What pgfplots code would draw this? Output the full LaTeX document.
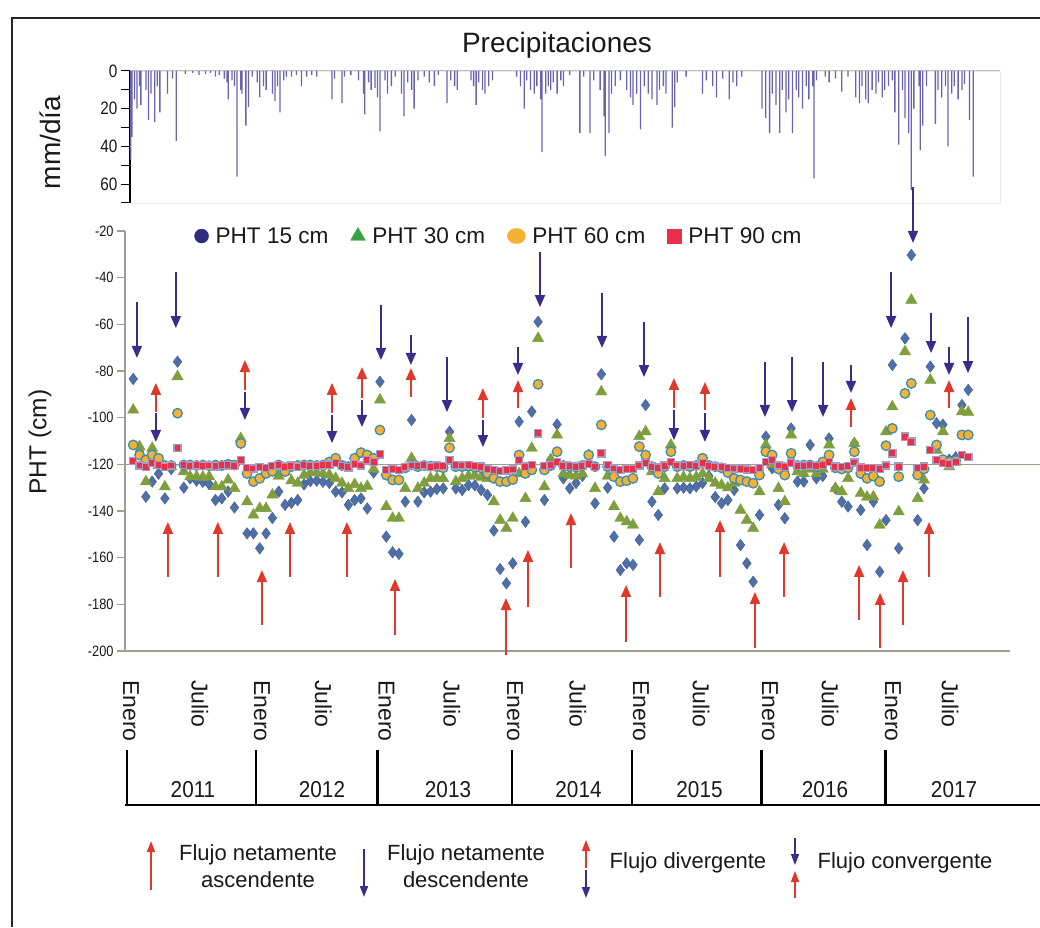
\documentclass[border=0pt]{standalone}
\usepackage{fontspec}
\setmainfont{Liberation Sans}
\newfontfamily\narrowfont{Liberation Sans}[FakeStretch=0.85]
\newfontfamily\condfont{Liberation Sans}[FakeStretch=0.9]
\usepackage{pgfplots}
\pgfplotsset{compat=1.18}
\usepackage{pgfplotstable}
\usetikzlibrary{arrows.meta}

\definecolor{pbar}{HTML}{6A64B0}
\definecolor{axgray}{HTML}{A39C94}
\definecolor{c15}{HTML}{4F6FA8}
\definecolor{c30}{HTML}{7F9E3E}
\definecolor{c60}{HTML}{F2B233}
\definecolor{c60e}{HTML}{3E8DB0}
\definecolor{c90}{HTML}{E8304A}
\definecolor{c90e}{HTML}{A49CC0}
\definecolor{l15}{HTML}{2E2D7F}
\definecolor{l30}{HTML}{3AA040}
\definecolor{arrred}{HTML}{E0392B}
\definecolor{arrpur}{HTML}{3D2B8C}

% potencial hidrico total (cm) a 15, 30, 60 y 90 cm
\pgfplotstableread{
x p15 p30 p60 p90
2011.05 -83.4 -96.7 -111.7 -118.5
2011.10 -114.6 -112.4 -116.0 -120.5
2011.15 -133.9 -127.4 -118.1 -121.0
2011.20 -127.4 -113.1 -116.0 -119.5
2011.25 -124.0 -120.5 -117.4 -120.2
2011.30 -134.6 -129.6 -120.5 -121.2
2011.35 -122.0 -121.0 -120.5 -120.5
2011.40 -76.0 -82.4 -98.1 -112.9
2011.45 -130.0 -123.1 -120.3 -120.3
2011.50 -126.0 -125.3 -120.3 -120.6
2011.55 -127.0 -125.3 -120.5 -120.4
2011.60 -127.5 -125.5 -120.3 -120.8
2011.65 -128.5 -125.3 -120.6 -120.5
2011.70 -135.3 -129.6 -120.3 -120.9
2011.75 -134.6 -129.6 -120.5 -120.2
2011.80 -131.7 -126.7 -120.0 -120.4
2011.85 -138.5 -130.3 -120.3 -120.8
2011.90 -111.0 -108.9 -111.0 -118.1
2011.95 -149.6 -136.0 -123.9 -121.5
2012.00 -149.6 -141.7 -127.4 -121.8
2012.05 -156.0 -138.9 -126.0 -121.2
2012.10 -149.6 -138.9 -123.9 -121.6
2012.15 -143.0 -133.1 -123.0 -120.8
2012.20 -131.7 -125.0 -120.3 -120.4
2012.25 -137.4 -123.1 -123.1 -121.0
2012.30 -136.5 -127.0 -121.0 -120.6
2012.35 -135.3 -128.1 -120.5 -121.2
2012.40 -128.6 -124.6 -120.3 -120.4
2012.45 -127.2 -123.6 -120.3 -120.8
2012.50 -127.0 -123.6 -120.5 -120.6
2012.55 -127.5 -124.0 -120.3 -120.4
2012.60 -128.0 -124.5 -119.0 -120.1
2012.65 -131.7 -126.0 -117.4 -119.5
2012.70 -132.0 -128.1 -120.5 -120.8
2012.75 -137.4 -130.3 -121.0 -121.3
2012.80 -135.3 -128.6 -117.4 -119.8
2012.85 -134.6 -130.3 -115.0 -120.5
2012.90 -138.9 -129.4 -116.0 -118.1
2012.95 -123.5 -122.0 -117.4 -118.9
2013.00 -84.6 -92.4 -105.3 -115.7
2013.05 -151.0 -138.1 -124.6 -122.4
2013.10 -157.7 -143.1 -126.7 -122.0
2013.15 -158.4 -143.1 -126.7 -122.4
2013.20 -136.0 -130.3 -121.5 -121.2
2013.25 -101.0 -117.4 -120.3 -120.5
2013.30 -136.0 -130.3 -121.0 -120.8
2013.35 -132.0 -128.0 -120.5 -120.4
2013.40 -131.7 -126.0 -120.8 -121.0
2013.45 -130.6 -126.0 -121.0 -120.6
2013.50 -130.3 -126.0 -121.5 -120.8
2013.55 -106.0 -108.9 -112.9 -118.1
2013.60 -130.3 -127.4 -121.0 -120.4
2013.65 -131.0 -126.0 -121.0 -120.5
2013.70 -128.9 -125.0 -120.8 -120.3
2013.75 -129.0 -124.6 -121.2 -120.8
2013.80 -131.0 -125.5 -121.5 -121.0
2013.85 -133.1 -126.0 -123.9 -122.0
2013.90 -148.4 -136.0 -126.0 -122.4
2013.95 -164.9 -143.9 -127.4 -122.8
2014.00 -171.0 -147.4 -127.4 -122.6
2014.05 -162.4 -143.1 -126.5 -122.2
2014.10 -101.7 -124.0 -116.0 -118.1
2014.15 -144.6 -134.6 -123.9 -121.0
2014.20 -97.4 -113.1 -122.4 -120.3
2014.25 -58.9 -66.0 -85.7 -106.7
2014.30 -135.3 -129.6 -122.4 -120.8
2014.35 -118.0 -118.0 -120.5 -120.3
2014.40 -102.9 -107.4 -114.6 -119.0
2014.45 -126.0 -124.0 -120.5 -120.6
2014.50 -130.3 -124.6 -121.0 -120.8
2014.55 -128.0 -125.0 -121.2 -121.0
2014.60 -125.0 -124.0 -120.5 -120.6
2014.65 -116.0 -120.0 -116.0 -119.8
2014.70 -136.7 -130.3 -121.0 -121.2
2014.75 -81.4 -88.9 -103.1 -115.3
2014.80 -130.0 -125.0 -121.0 -120.4
2014.85 -151.0 -138.1 -125.3 -121.8
2014.90 -165.3 -143.1 -127.4 -122.4
2014.95 -162.4 -144.6 -127.0 -122.0
2015.00 -163.1 -146.0 -126.0 -122.0
2015.05 -152.4 -108.0 -112.4 -120.5
2015.10 -94.6 -106.0 -116.0 -119.5
2015.15 -136.0 -123.1 -121.0 -121.0
2015.20 -141.7 -131.7 -123.9 -121.4
2015.25 -130.3 -126.0 -121.0 -120.6
2015.30 -112.4 -111.7 -114.6 -118.9
2015.35 -130.3 -126.0 -121.0 -120.5
2015.40 -130.0 -125.5 -120.5 -120.8
2015.45 -130.3 -126.0 -121.0 -120.4
2015.50 -129.5 -125.5 -120.5 -120.6
2015.55 -128.0 -124.0 -117.4 -119.6
2015.60 -125.0 -126.0 -120.5 -120.8
2015.65 -134.0 -128.0 -121.0 -121.0
2015.70 -136.7 -128.9 -121.5 -121.2
2015.75 -135.3 -130.0 -123.5 -121.5
2015.80 -131.0 -128.0 -126.0 -121.8
2015.85 -154.6 -139.6 -126.7 -122.0
2015.90 -162.4 -143.9 -127.4 -122.2
2015.95 -170.3 -147.4 -128.1 -122.4
2016.00 -141.7 -131.7 -124.6 -121.5
2016.05 -108.1 -111.7 -114.6 -119.1
2016.10 -121.7 -120.0 -116.0 -118.1
2016.15 -137.4 -130.3 -122.0 -120.5
2016.20 -143.1 -136.0 -124.6 -121.0
2016.25 -104.6 -107.4 -115.3 -119.3
2016.30 -127.4 -123.1 -120.5 -120.6
2016.35 -127.4 -124.0 -120.3 -120.6
2016.40 -111.7 -122.0 -120.3 -120.4
2016.45 -126.0 -124.0 -121.0 -120.8
2016.50 -125.0 -122.0 -119.0 -120.2
2016.55 -108.9 -111.7 -116.0 -119.0
2016.60 -130.3 -130.3 -121.5 -121.0
2016.65 -136.0 -131.7 -122.0 -121.2
2016.70 -138.1 -126.0 -121.5 -120.8
2016.75 -111.0 -111.0 -114.6 -119.2
2016.80 -139.6 -132.4 -123.9 -121.4
2016.85 -154.6 -134.0 -126.0 -121.6
2016.90 -136.0 -133.9 -125.0 -121.5
2016.95 -166.0 -146.0 -127.4 -122.0
2017.00 -143.9 -106.0 -112.0 -120.5
2017.05 -77.4 -95.3 -104.6 -115.3
2017.10 -156.0 -140.3 -125.3 -121.0
2017.15 -66.0 -71.7 -89.6 -108.1
2017.20 -30.3 -49.6 -85.3 -110.3
2017.25 -143.9 -134.6 -124.6 -121.5
2017.30 -130.3 -126.7 -122.0 -121.0
2017.35 -78.1 -83.9 -98.9 -113.9
2017.40 -102.4 -113.9 -111.7 -118.1
2017.45 -103.0 -106.0 -118.0 -119.5
2017.50 -118.0 -121.0 -119.0 -120.0
2017.55 -117.0 -119.0 -118.5 -119.0
2017.60 -94.6 -97.4 -107.4 -116.0
2017.65 -88.1 -97.7 -107.4 -116.9
}\pht

% precipitacion diaria (mm)
\pgfplotstableread{
x mm
2011.03 47
2011.04 35
2011.06 15
2011.08 20
2011.10 8
2011.11 18
2011.15 10
2011.17 26
2011.19 12
2011.22 27
2011.24 8
2011.26 22
2011.32 12
2011.36 4
2011.39 37
2011.46 1.5
2011.52 1
2011.57 2
2011.62 1.5
2011.66 1
2011.70 3
2011.73 2
2011.77 4
2011.79 6
2011.80 15
2011.83 5
2011.85 8
2011.87 56
2011.90 10
2011.91 12
2011.94 29
2011.96 19
2011.99 3
2012.03 6
2012.05 14
2012.08 8
2012.10 10
2012.15 12
2012.17 16
2012.19 8
2012.21 22
2012.24 5
2012.26 3
2012.30 3
2012.34 2
2012.38 8
2012.42 3
2012.46 2
2012.50 3
2012.62 15
2012.64 4
2012.70 17
2012.72 3
2012.77 2
2012.83 5
2012.87 12
2012.88 23
2012.91 6
2012.93 10
2012.96 9
2012.98 14
2013.00 32
2013.04 5
2013.06 12
2013.09 8
2013.12 3
2013.17 12
2013.19 24
2013.22 6
2013.25 10
2013.27 20
2013.30 5
2013.35 3
2013.39 6
2013.43 8
2013.46 2
2013.53 17
2013.56 5
2013.59 8
2013.61 10
2013.72 5
2013.74 8
2013.76 18
2013.78 6
2013.81 10
2013.83 12
2013.86 8
2013.89 5
2014.08 3
2014.11 8
2014.14 20
2014.16 5
2014.19 10
2014.22 12
2014.24 8
2014.27 15
2014.28 43
2014.31 12
2014.33 8
2014.35 10
2014.37 6
2014.40 12
2014.43 5
2014.45 8
2014.50 2
2014.58 33
2014.61 3
2014.66 33
2014.69 5
2014.74 10
2014.77 24
2014.78 45
2014.81 33
2014.83 12
2014.86 8
2014.90 5
2014.95 10
2014.98 14
2015.00 18
2015.03 12
2015.06 31
2015.09 8
2015.12 12
2015.15 15
2015.19 18
2015.21 10
2015.24 8
2015.26 12
2015.31 30
2015.33 19
2015.35 6
2015.42 3
2015.55 12
2015.58 5
2015.63 8
2015.66 14
2015.71 4
2015.76 15
2015.79 6
2015.82 8
2015.86 3
2016.02 20
2016.05 25
2016.08 33
2016.10 12
2016.13 18
2016.16 33
2016.18 10
2016.21 22
2016.23 15
2016.26 33
2016.29 10
2016.31 14
2016.34 20
2016.37 8
2016.39 15
2016.42 8
2016.43 57
2016.45 5
2016.52 3
2016.55 6
2016.60 4
2016.65 11
2016.70 3
2016.76 14
2016.79 17
2016.81 8
2016.84 15
2016.86 17
2016.89 10
2016.92 12
2016.94 6
2016.97 14
2016.99 10
2017.02 8
2017.05 5
2017.07 22
2017.10 39
2017.13 10
2017.15 25
2017.18 33
2017.20 63
2017.22 20
2017.26 8
2017.27 42
2017.29 29
2017.32 8
2017.39 28
2017.41 10
2017.44 14
2017.47 8
2017.49 40
2017.52 12
2017.54 8
2017.57 15
2017.60 10
2017.62 7
2017.66 26
2017.69 56
}\lluvia

% flechas descendentes (cola y largo)
\pgfplotstableread{
x y v
2011.079 -50.4 -24.0
2011.387 -37.6 -24.0
2013.008 -51.7 -23.6
2013.530 -74.0 -23.6
2014.265 -29.0 -23.6
2014.755 -46.6 -23.5
2015.087 -59.0 -23.6
2016.043 -76.1 -23.6
2016.257 -74.0 -23.6
2016.502 -76.1 -23.6
2017.040 -37.6 -24.0
2017.213 -1.1 -24.0
2017.356 -55.1 -17.2
2017.648 -56.9 -24.0
2013.245 -64.6 -12.8
2014.091 -69.7 -12.0
2016.723 -77.4 -12.0
2017.498 -69.7 -12.0
2011.229 -98.0 -12.4
2011.933 -89.0 -12.0
2012.621 -98.9 -12.0
2012.858 -92.4 -11.6
2013.814 -101.0 -11.6
2015.324 -96.7 -12.9
2015.569 -98.0 -12.4
}\bajan

% flechas ascendentes
\pgfplotstableread{
x y v
2013.245 -91.1 12.4
2014.091 -95.9 12.0
2016.723 -104.0 12.4
2017.498 -95.9 12.0
2011.229 -97.6 12.5
2011.933 -88.1 12.8
2012.621 -98.0 12.9
2012.858 -91.6 13.3
2013.814 -100.1 12.8
2015.324 -95.9 12.9
2015.569 -96.7 12.0
2011.324 -168.3 23.6
2011.719 -168.3 23.6
2012.067 -188.9 23.6
2012.289 -168.3 23.6
2012.739 -168.3 23.6
2013.119 -193.1 24.0
2013.996 -201.7 24.4
2014.170 -181.1 24.4
2014.510 -164.4 23.5
2014.945 -196.1 24.4
2015.213 -176.9 23.6
2015.688 -168.3 24.4
2015.964 -198.7 24.0
2016.194 -176.9 23.6
2016.787 -186.7 23.6
2016.953 -198.7 23.6
2017.134 -188.9 23.6
2017.340 -168.3 23.6
}\suben

\begin{document}
\begin{tikzpicture}[x=1pt,y=1pt]
\path[use as bounding box] (0,0) rectangle (1040,927);
\draw[line width=1.3pt, black!85] (12,0) -- (12,909) -- (1040,909);
\node[text=black!90] at (557,882) {\fontsize{28}{32}\selectfont Precipitaciones};
\node[rotate=90, text=black!90] at (50,784.5) {\fontsize{28}{32}\selectfont mm/día};
\node[rotate=90, text=black!90] at (40,485) {\fontsize{24.5}{28}\selectfont PHT (cm)};

% precipitaciones
\begin{axis}[
  at={(130pt,724pt)}, anchor=south west,
  scale only axis, width=870pt, height=132pt,
  xmin=2011.024, xmax=2017.901,
  ymin=0, ymax=70, y dir=reverse,
  axis x line=none, axis y line=left,
  y axis line style={black, line width=1.2pt, -},
  ytick={0,20,40,60}, yticklabels={0,20,40,60},
  minor ytick={10,30,50,70},
  tick align=outside, major tick length=9pt, minor tick length=9pt,
  every tick/.style={black, line width=1pt},
  yticklabel style={font=\narrowfont\fontsize{18}{18}\selectfont, text=black!90},
  axis background/.style={draw=black!8},
  clip=false,
]
\addplot[black!25, line width=1pt] coordinates {(2011.024,0) (2017.901,0)};
\addplot[ybar, bar width=1.3pt, fill=pbar, draw=none] table[x=x,y=mm]{\lluvia};
\end{axis}

% potencial hidrico total
\begin{axis}[
  at={(125pt,276pt)}, anchor=south west,
  scale only axis, width=885pt, height=420pt,
  xmin=2010.985, xmax=2017.98,
  ymin=-200, ymax=-20,
  axis lines=left,
  axis line style={axgray, line width=1.5pt, -},
  x axis line style={line width=2.2pt},
  ytick={-200,-180,-160,-140,-120,-100,-80,-60,-40,-20},
  yticklabels={-200,-180,-160,-140,-120,-100,-80,-60,-40,-20},
  tick align=outside, major tick length=8pt,
  y tick style={axgray, line width=1.2pt},
  x tick style={draw=none},
  yticklabel style={font=\narrowfont\fontsize{15}{15}\selectfont, text=black!90},
  xtick={2011.032,2011.577,2012.067,2012.553,2013.051,2013.569,2014.067,2014.565,2015.063,2015.538,2016.083,2016.558,2017.055,2017.506},
  xticklabels={Enero,Julio,Enero,Julio,Enero,Julio,Enero,Julio,Enero,Julio,Enero,Julio,Enero,Julio},
  xticklabel style={rotate=-90, anchor=west, inner sep=0pt, font=\fontsize{23}{23}\selectfont, text=black!90},
  xticklabel shift=21pt,
  clip=false,
  legend columns=4,
  legend style={draw=none, fill=none, at={(0.075,0.988)}, anchor=west,
    font=\fontsize{22.6}{24}\selectfont, text=black!90,
    /tikz/every odd column/.append style={column sep=5pt},
    /tikz/every even column/.append style={column sep=20pt}},
]
\addlegendimage{only marks, mark=*, mark size=7pt, mark options={fill=l15, draw=l15}}
\addlegendentry{PHT 15 cm}
\addlegendimage{only marks, mark=triangle*, mark size=8.5pt, mark options={fill=l30, draw=l30}}
\addlegendentry{PHT 30 cm}
\addlegendimage{only marks, mark=*, mark size=9pt, mark options={fill=c60, draw=c60, yscale=0.85}}
\addlegendentry{PHT 60 cm}
\addlegendimage{only marks, mark=square*, mark size=7pt, mark options={fill=c90, draw=c90}}
\addlegendentry{PHT 90 cm}

\draw[axgray, line width=1.5pt] (axis cs:2010.985,-120) -- (axis cs:2018.22,-120);

\addplot[forget plot, only marks, mark=diamond*, mark size=5.8pt,
  mark options={fill=c15, draw=c15!85!black, line width=0.4pt}] table[x=x,y=p15]{\pht};
\addplot[forget plot, only marks, mark=triangle*, mark size=6.5pt,
  mark options={fill=c30, draw=c30, line width=0.4pt}] table[x=x,y=p30]{\pht};
\addplot[forget plot, only marks, mark=*, mark size=4.8pt,
  mark options={fill=c60, draw=c60e, line width=1.3pt}] table[x=x,y=p60]{\pht};
\addplot[forget plot, only marks, mark=square*, mark size=3.6pt,
  mark options={fill=c90, draw=c90e, line width=1.3pt}] table[x=x,y=p90]{\pht};

\addplot[forget plot, arrpur, line width=1.8pt, -{Triangle[length=12pt,width=10pt]},
  quiver={u=0, v=\thisrow{v}}] table[x=x,y=y]{\bajan};
\addplot[forget plot, arrred, line width=1.8pt, -{Triangle[length=12pt,width=10pt]},
  quiver={u=0, v=\thisrow{v}}] table[x=x,y=y]{\suben};
\end{axis}

% anos
\foreach \xx in {127,255.9,377.6,511.9,631.8,761.3,885.4}
  \draw[line width=2.6pt] (\xx,177) -- (\xx,122);
\draw[line width=2.8pt] (125,122) -- (1040,122);
\foreach \xx/\yy in {193/2011,322/2012,448/2013,578.5/2014,699.5/2015,825/2016,954/2017}
  \node[text=black!90] at (\xx,137) {\condfont\fontsize{23}{23}\selectfont \yy};

% leyenda de flechas
\begin{scope}[line width=1.6pt]
\draw[arrred, -{Triangle[length=11pt,width=8pt]}] (151,37) -- (151,86);
\draw[arrpur, -{Triangle[length=11pt,width=8pt]}] (364,78) -- (364,30);
\draw[arrred, -{Triangle[length=11pt,width=8pt]}] (586,59) -- (586,87);
\draw[arrpur, -{Triangle[length=11pt,width=8pt]}] (586,57) -- (586,29);
\draw[arrpur, -{Triangle[length=11pt,width=8pt]}] (795,89) -- (795,62);
\draw[arrred, -{Triangle[length=11pt,width=8pt]}] (795,29) -- (795,56);
\end{scope}
\begin{scope}[every node/.style={text=black!90, align=center, font=\fontsize{22}{27}\selectfont}]
\node at (258,61) {Flujo netamente\\ascendente};
\node at (466,61) {Flujo netamente\\descendente};
\node at (688,64) {Flujo divergente};
\node at (905,64) {Flujo convergente};
\end{scope}
\end{tikzpicture}
\end{document}
